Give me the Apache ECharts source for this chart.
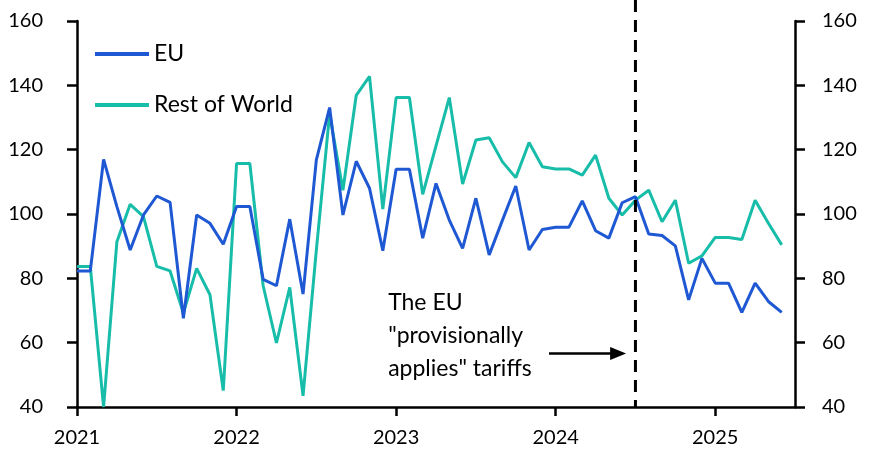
<!DOCTYPE html>
<html><head><meta charset="utf-8">
<script src="https://cdn.jsdelivr.net/npm/echarts@6/dist/echarts.min.js"></script>
<style>html,body{margin:0;padding:0;background:#fff}#c{width:879px;height:472px}</style>
</head><body><div id="c"></div>
<script>
// Monthly categories, Jan 2021 .. Jun 2025
const months = [];
for (let y = 2021; y <= 2025; y++) for (let m = 1; m <= 12; m++) if (months.length < 54) months.push(y + '-' + String(m).padStart(2, '0'));

const euValues = [82.3,82.3,117.0,102.3,88.8,99.7,105.6,103.6,67.6,99.7,97.1,90.6,
  102.3,102.3,79.7,77.7,98.4,75.1,116.8,133.1,99.7,116.4,108.0,88.6,
  113.9,113.9,92.5,109.5,98.1,89.3,104.9,87.3,98.1,108.7,88.8,95.2,
  95.9,95.9,104.1,94.8,92.5,103.5,105.4,93.8,93.3,90.1,73.3,86.2,
  78.5,78.5,69.4,78.5,72.8,69.4];
const rowValues = [83.7,83.7,40.0,91.4,103.0,99.2,83.7,82.3,69.2,83.1,74.9,45.1,
  115.7,115.7,77.7,59.9,77.2,43.5,88.8,131.2,107.4,136.9,142.8,101.5,
  136.2,136.2,106.1,121.2,136.2,109.3,123.0,123.7,116.2,111.3,122.2,114.7,
  114.0,114.0,112.1,118.3,104.9,99.7,104.3,107.4,97.6,104.3,84.7,87.0,
  92.7,92.7,92.1,104.3,97.1,90.4];
const seriesNames = ['EU', 'Rest of World'];
const yearTickIdx = [0, 12, 24, 36, 48];
const yearLabels = ['2021', '2022', '2023', '2024', '2025'];
const yMin = 40, yMax = 160, yStep = 20;
const policyMonth = '2024-07';
const noteLines = ['The EU', '"provisionally', 'applies" tariffs'];
const noteAnchor = [23.4, 77.6];       // data-space anchor of the note text
const arrowFrom = [35.5, 56.6], arrowTo = [41.3, 56.6];

const FONT = 'Lato';
const BLUE = '#1f58d3', TEAL = '#17bda9';

const chart = echarts.init(document.getElementById('c'), null, {renderer: 'canvas'});
const axisLine = {show: true, lineStyle: {color: '#000', width: 2.5}};
const yAxisBase = {
  type: 'value', min: yMin, max: yMax, interval: yStep,
  axisLine: axisLine, splitLine: {show: false},
  axisTick: {show: true, length: 10, lineStyle: {color: '#000', width: 2.5}},
};
chart.setOption({
  animation: false,
  textStyle: {fontFamily: FONT},
  grid: {left: 77, right: 84, top: 21, bottom: 65, containLabel: false},
  legend: {
    orient: 'vertical', left: 95, top: 41, padding: 0, itemWidth: 54, itemHeight: 4, itemGap: 25,
    icon: 'rect',
    textStyle: {fontFamily: FONT, fontSize: 23, color: '#000', lineHeight: 26},
    data: seriesNames
  },
  xAxis: {
    type: 'value', min: 0, max: 54, interval: 12,
    axisLine: axisLine, splitLine: {show: false},
    axisTick: {show: true, length: 9, customValues: yearTickIdx, lineStyle: {color: '#000', width: 2.5}},
    axisLabel: {customValues: yearTickIdx, margin: 21, fontSize: 20, color: '#000', fontFamily: FONT,
      formatter: v => yearLabels[yearTickIdx.indexOf(v)] || ''}
  },
  yAxis: [
    Object.assign({}, yAxisBase, {position: 'left', axisLabel: {margin: 34, fontSize: 20, color: '#000', fontFamily: FONT}}),
    Object.assign({}, yAxisBase, {position: 'right', axisLabel: {margin: 27, fontSize: 20, color: '#000', fontFamily: FONT}})
  ],
  series: [
    {name: seriesNames[1], type: 'line', symbol: 'none', lineStyle: {color: TEAL, width: 3}, itemStyle: {color: TEAL},
      data: rowValues.map((v, i) => [i, v])},
    {name: seriesNames[0], type: 'line', symbol: 'none', lineStyle: {color: BLUE, width: 3}, itemStyle: {color: BLUE},
      data: euValues.map((v, i) => [i, v])}
  ]
});

// Dashed policy line, arrow and note, positioned through the axes' own scales
const px = chart.convertToPixel({xAxisIndex: 0}, months.indexOf(policyMonth));
const pyBottom = chart.convertToPixel({yAxisIndex: 0}, yMin);
const note = chart.convertToPixel({gridIndex: 0}, noteAnchor);
const a0 = chart.convertToPixel({gridIndex: 0}, arrowFrom);
const a1 = chart.convertToPixel({gridIndex: 0}, arrowTo);
const headLen = 16, headHalf = 6.5;
chart.setOption({
  graphic: [
    {type: 'line', silent: true, z: 50, shape: {x1: px, y1: 0, x2: px, y2: pyBottom},
      style: {stroke: '#000', lineWidth: 3, lineDash: [12, 8]}},
    {type: 'line', silent: true, z: 50, shape: {x1: a0[0], y1: a0[1], x2: a1[0] - headLen + 1, y2: a1[1]},
      style: {stroke: '#000', lineWidth: 2.5}},
    {type: 'polygon', silent: true, z: 50,
      shape: {points: [[a1[0], a1[1]], [a1[0] - headLen, a1[1] - headHalf], [a1[0] - headLen, a1[1] + headHalf]]},
      style: {fill: '#000'}},
    {type: 'text', silent: true, z: 50, x: note[0], y: note[1],
      style: {text: noteLines.join('\n'), font: '23px ' + FONT, fill: '#000', lineHeight: 33,
        textAlign: 'left', textVerticalAlign: 'top'}}
  ]
});
</script></body></html>
